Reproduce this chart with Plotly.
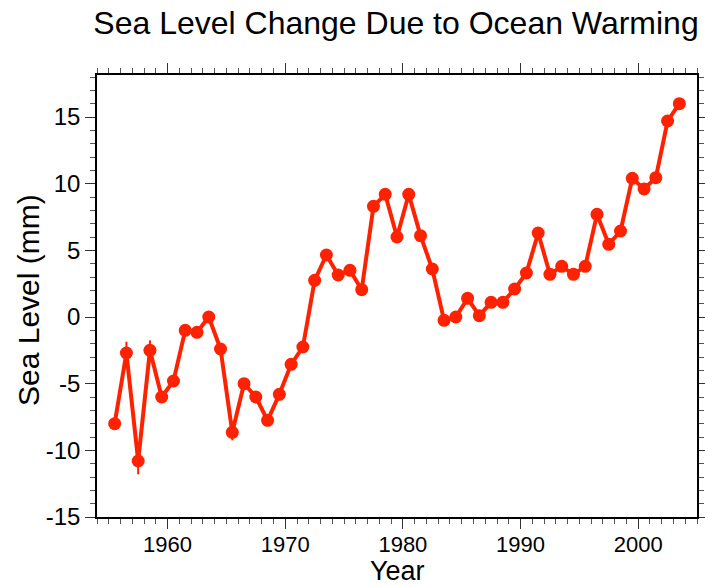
import plotly.graph_objects as go

years = [1955.5 + i for i in range(49)]
sea_level = [-8.0, -2.7, -10.8, -2.5, -6.0, -4.8, -1.0, -1.15, 0.0, -2.4,
             -8.65, -5.0, -6.0, -7.75, -5.8, -3.55, -2.25, 2.75, 4.65, 3.15,
             3.5, 2.05, 8.3, 9.2, 6.0, 9.2, 6.1, 3.6, -0.25, 0.0,
             1.4, 0.1, 1.1, 1.1, 2.1, 3.3, 6.3, 3.2, 3.8, 3.2,
             3.8, 7.7, 5.45, 6.45, 10.4, 9.6, 10.45, 14.7, 16.0]
errors = [0.4, 0.85, 1.0, 0.75, 0.4, 0.4, 0.4, 0.35, 0.35, 0.35,
          0.6, 0.3, 0.3, 0.3, 0.3, 0.3, 0.3, 0.3, 0.3, 0.3,
          0.3, 0.3, 0.3, 0.3, 0.3, 0.3, 0.3, 0.3, 0.3, 0.3,
          0.3, 0.3, 0.3, 0.3, 0.3, 0.3, 0.3, 0.3, 0.3, 0.3,
          0.3, 0.3, 0.3, 0.3, 0.3, 0.3, 0.3, 0.3, 0.3]
x_ticks = [1960, 1970, 1980, 1990, 2000]
y_ticks = [-15, -10, -5, 0, 5, 10, 15]

RED = "#FF2200"
FONT = "Liberation Sans, Arial, Helvetica, sans-serif"

W, H = 705, 586
L, R, T, B = 97, 8, 75, 69

fig = go.Figure()
fig.add_trace(go.Scatter(
    x=years, y=sea_level, mode="lines+markers",
    line=dict(color=RED, width=4),
    marker=dict(color=RED, size=13),
    error_y=dict(type="data", array=errors, visible=True, color=RED,
                 thickness=2, width=0),
    showlegend=False,
))

axis_common = dict(
    showline=True, linecolor="black", linewidth=1.5, mirror="ticks",
    ticks="outside", ticklen=10, tickwidth=1.2, tickcolor="#333333",
    showgrid=False, zeroline=False, automargin=False,
)

fig.update_xaxes(
    range=[1954, 2005], tickvals=x_ticks, ticktext=[str(v) for v in x_ticks],
    minor=dict(dtick=1, tick0=1954, ticks="outside", ticklen=5,
               tickwidth=1, tickcolor="#555555", showgrid=False),
    tickfont=dict(family=FONT, size=22, color="black"),
    ticklabelstandoff=-3,
    **axis_common,
)
fig.update_yaxes(
    range=[-15, 18.15], tickvals=y_ticks, ticktext=[str(v) for v in y_ticks],
    minor=dict(dtick=1, tick0=-15, ticks="outside", ticklen=5,
               tickwidth=1, tickcolor="#555555", showgrid=False),
    tickfont=dict(family=FONT, size=24, color="black"),
    **axis_common,
)

fig.add_annotation(text="Year", xref="paper", yref="paper",
                   x=0.5, y=-(571 - (H - B)) / (H - T - B), xanchor="center",
                   yanchor="middle", showarrow=False,
                   font=dict(family=FONT, size=27, color="black"))
fig.add_annotation(text="Sea Level (mm)", xref="paper", yref="paper",
                   x=-(L - 28) / (W - L - R), y=0.5 - (300 - (T + (H - T - B) / 2)) / (H - T - B),
                   xanchor="center", yanchor="middle", textangle=-90, showarrow=False,
                   font=dict(family=FONT, size=30, color="black"))

fig.update_layout(
    width=W, height=H,
    margin=dict(l=L, r=R, t=T, b=B),
    paper_bgcolor="white", plot_bgcolor="white",
    title=dict(text="Sea Level Change Due to Ocean Warming",
               font=dict(family=FONT, size=32, color="black"),
               x=396 / W, xanchor="center", xref="container",
               y=1 - 23 / H, yanchor="middle", yref="container"),
)

fig.write_html("out.html", config={"displayModeBar": False},
               post_script="document.body.style.margin='0';document.body.style.padding='0';")
